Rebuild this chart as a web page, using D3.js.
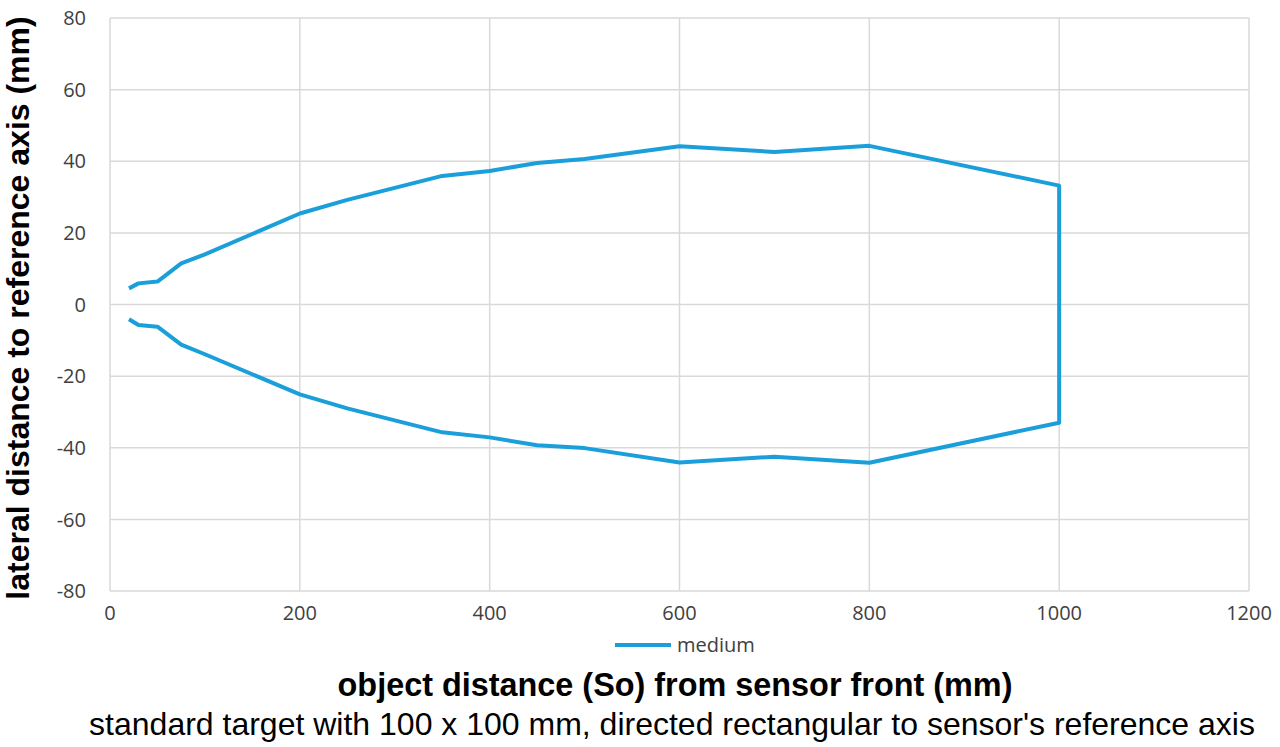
<!DOCTYPE html>
<html>
<head>
<meta charset="utf-8">
<script src="https://cdn.jsdelivr.net/npm/d3@7"></script>
<style>
  body { margin: 0; background: #fff; }
  svg { display: block; }
</style>
</head>
<body>
<script>
// object distance (mm) and lateral limits (mm)
var distances = [20, 30, 50, 75, 100, 200, 250, 350, 400, 450, 500, 600, 700, 800, 1000];
var upperEdge = [4.5, 5.9, 6.4, 11.5, 14, 25.4, 29.2, 35.9, 37.3, 39.5, 40.6, 44.2, 42.6, 44.3, 33.2];
var lowerEdge = [-4.1, -5.7, -6.2, -11.2, -13.9, -25.1, -29, -35.7, -37.1, -39.3, -40.1, -44.1, -42.5, -44.2, -33];
var xTicks = [0, 200, 400, 600, 800, 1000, 1200];
var yTicks = [-80, -60, -40, -20, 0, 20, 40, 60, 80];
var seriesName = 'medium';

var width = 1280, height = 747;
var plot = {left: 110, right: 1249, top: 18, bottom: 591};

var svg = d3.select('body').append('svg')
    .attr('width', width)
    .attr('height', height);

var x = d3.scaleLinear().domain([0, 1200]).range([plot.left, plot.right]);
var y = d3.scaleLinear().domain([-80, 80]).range([plot.bottom, plot.top]);

// grid lines
svg.append('g').selectAll('line.h')
    .data(yTicks).enter().append('line')
    .attr('x1', plot.left).attr('x2', plot.right)
    .attr('y1', function(d){ return y(d); })
    .attr('y2', function(d){ return y(d); })
    .attr('stroke', '#d9d9d9').attr('stroke-width', 1.5);

svg.append('g').selectAll('line.v')
    .data(xTicks).enter().append('line')
    .attr('y1', plot.top).attr('y2', plot.bottom)
    .attr('x1', function(d){ return x(d); })
    .attr('x2', function(d){ return x(d); })
    .attr('stroke', '#d9d9d9').attr('stroke-width', 1.5);

// tick labels
var tickFont = '"Open Sans", "Noto Sans", sans-serif';
svg.append('g').selectAll('text')
    .data(yTicks).enter().append('text')
    .attr('x', 86).attr('y', function(d){ return y(d); })
    .attr('dy', '0.36em')
    .attr('text-anchor', 'end')
    .style('font-family', tickFont).style('font-size', '20px').style('fill', '#404040')
    .text(function(d){ return d; });

svg.append('g').selectAll('text')
    .data(xTicks).enter().append('text')
    .attr('x', function(d){ return x(d); }).attr('y', 620)
    .attr('text-anchor', 'middle')
    .style('font-family', tickFont).style('font-size', '20px').style('fill', '#404040')
    .text(function(d){ return d; });

// the outline: along the upper edge, down at 1000 mm, back along the lower edge
var outline = distances.map(function(d, i){ return [d, upperEdge[i]]; })
    .concat(distances.map(function(d, i){ return [d, lowerEdge[i]]; }).reverse());

var line = d3.line()
    .x(function(d){ return x(d[0]); })
    .y(function(d){ return y(d[1]); });

svg.append('path')
    .datum(outline)
    .attr('d', line)
    .attr('fill', 'none')
    .attr('stroke', '#1a9fdb')
    .attr('stroke-width', 4)
    .attr('stroke-linejoin', 'round');

// legend
svg.append('line')
    .attr('x1', 615).attr('x2', 671).attr('y1', 645).attr('y2', 645)
    .attr('stroke', '#1a9fdb').attr('stroke-width', 4);
svg.append('text')
    .attr('x', 677).attr('y', 652)
    .style('font-family', tickFont).style('font-size', '20px').style('fill', '#404040')
    .text(seriesName);

// axis titles
svg.append('text')
    .attr('x', 675).attr('y', 696)
    .attr('text-anchor', 'middle')
    .style('font-family', '"Liberation Sans", Arial, sans-serif')
    .style('font-weight', 'bold').style('font-size', '32.4px')
    .text('object distance (So) from sensor front (mm)');

svg.append('text')
    .attr('x', 672).attr('y', 735)
    .attr('text-anchor', 'middle')
    .style('font-family', '"Liberation Sans", Arial, sans-serif')
    .style('font-size', '32px')
    .text("standard target with 100 x 100 mm, directed rectangular to sensor's reference axis");

svg.append('text')
    .attr('transform', 'translate(29,' + 308 + ') rotate(-90)')
    .attr('text-anchor', 'middle')
    .style('font-family', '"Liberation Sans", Arial, sans-serif')
    .style('font-weight', 'bold').style('font-size', '32px')
    .text('lateral distance to reference axis (mm)');
</script>
</body>
</html>
